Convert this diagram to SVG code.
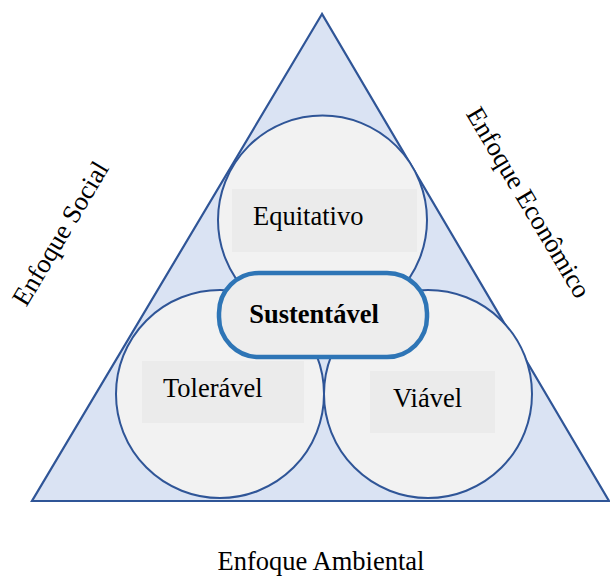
<svg xmlns="http://www.w3.org/2000/svg" width="610" height="576" viewBox="0 0 610 576">
<style>
.circ{fill:#F2F2F2;stroke:#2F5597;stroke-width:2}
.lbl{fill:#EBEBEB}
.t{font-family:"Liberation Serif","Times New Roman",serif;font-size:26.5px;fill:#000}
</style>
<rect width="610" height="576" fill="#fff"/>
<g id="triangle"><polygon points="322,14 32,501 609,501" fill="#DAE3F3" stroke="#2F5597" stroke-width="2.2"/></g>
<g id="equitativo">
<circle class="circ" cx="322.5" cy="220" r="104.5"/>
<rect class="lbl" x="232" y="189" width="185" height="63"/>
<text class="t" x="253" y="225">Equitativo</text>
</g>
<g id="toleravel">
<circle class="circ" cx="220" cy="394" r="104"/>
<rect class="lbl" x="142" y="361" width="162" height="62"/>
<text class="t" x="163" y="397">Tolerável</text>
</g>
<g id="viavel">
<circle class="circ" cx="428" cy="394" r="104"/>
<rect class="lbl" x="370" y="371" width="125" height="62"/>
<text class="t" x="393" y="407">Viável</text>
</g>
<g id="sustentavel">
<rect x="219" y="273" width="208" height="84" rx="40" fill="#EDEDED" stroke="#2E75B6" stroke-width="4.5"/>
<text class="t" x="314" y="323" text-anchor="middle" font-weight="bold" font-size="28">Sustentável</text>
</g>
<g id="social"><text class="t" transform="translate(68,238) rotate(-59.2)" text-anchor="middle">Enfoque Social</text></g>
<g id="economico"><text class="t" transform="translate(521,207) rotate(59.2)" text-anchor="middle">Enfoque Econômico</text></g>
<g id="ambiental"><text class="t" x="321" y="570" text-anchor="middle">Enfoque Ambiental</text></g>
<g id="connectors"></g>
</svg>
